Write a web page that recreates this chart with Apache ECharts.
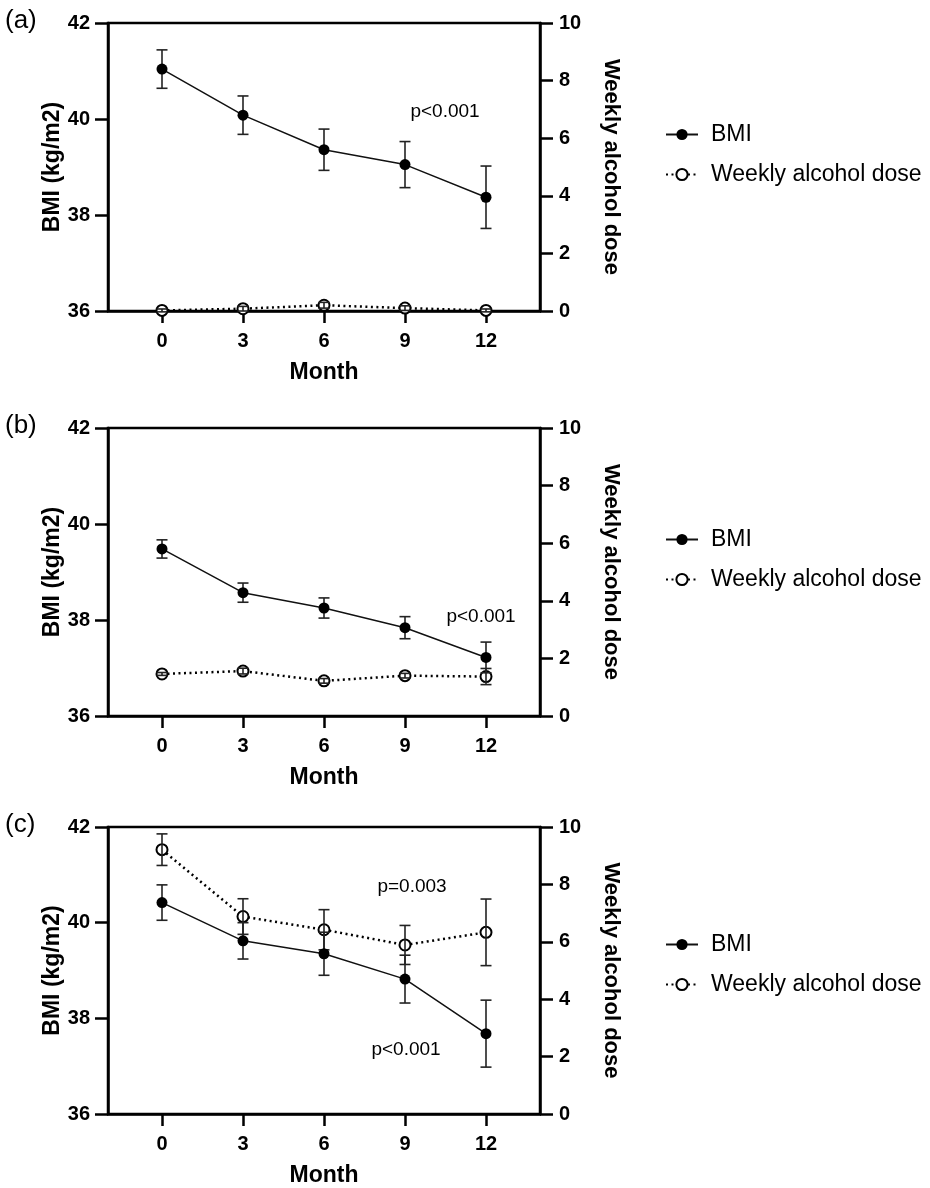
<!DOCTYPE html>
<html>
<head>
<meta charset="utf-8">
<script src="https://cdn.jsdelivr.net/npm/echarts@6/dist/echarts.min.js"></script>
<style>
html,body{margin:0;padding:0;background:#fff;}
#chart{width:930px;height:1188px;}
</style>
</head>
<body>
<div id="chart"></div>
<script>
// ---- data ----
const months = [0, 3, 6, 9, 12];
const xTicks = [0, 3, 6, 9, 12];
const bmiTicks = [36, 38, 40, 42];
const alcTicks = [0, 2, 4, 6, 8, 10];

const bmiA = [41.04, 40.08, 39.36, 39.05, 38.37];
const bmiAErr = [0.40, 0.40, 0.43, 0.48, 0.65];
const alcA = [0.02, 0.08, 0.20, 0.10, 0.02];
const alcAErr = [0.05, 0.08, 0.10, 0.08, 0.05];

const bmiB = [39.48, 38.57, 38.25, 37.84, 37.22];
const bmiBErr = [0.19, 0.20, 0.21, 0.23, 0.32];
const alcB = [1.46, 1.56, 1.22, 1.40, 1.37];
const alcBErr = [0.05, 0.10, 0.08, 0.08, 0.28];

const bmiC = [40.42, 39.62, 39.35, 38.82, 37.68];
const bmiCErr = [0.37, 0.38, 0.45, 0.50, 0.70];
const alcC = [9.21, 6.88, 6.42, 5.89, 6.33];
const alcCErr = [0.55, 0.62, 0.70, 0.68, 1.16];

const panelLabels = ['(a)', '(b)', '(c)'];
const seriesNames = ['BMI', 'Weekly alcohol dose'];
const xName = 'Month';
const yLeftName = 'BMI (kg/m2)';
const yRightName = 'Weekly alcohol dose';
const pTexts = [['p<0.001'], ['p<0.001'], ['p=0.003', 'p<0.001']];

// ---- layout / styles ----
const FONT = '"Liberation Sans", Arial, Helvetica, sans-serif';
const gridTops = [23, 428, 827];
const gridH = 288;
const gridLeft = 108;
const gridW = 432;
const legendTops = [123, 528, 933];
const pPos = [[[445, 112]], [[481, 617]], [[412, 887], [406, 1050]]];

const panels = [
  {bmi: bmiA, bmiErr: bmiAErr, alc: alcA, alcErr: alcAErr},
  {bmi: bmiB, bmiErr: bmiBErr, alc: alcB, alcErr: alcBErr},
  {bmi: bmiC, bmiErr: bmiCErr, alc: alcC, alcErr: alcCErr}
];

function errRender(params, api) {
  const x = api.value(0), y = api.value(1), e = api.value(2);
  const hi = api.coord([x, y + e]);
  const lo = api.coord([x, y - e]);
  const w = 5.5;
  const st = {stroke: '#222', lineWidth: 1.6};
  return {
    type: 'group',
    children: [
      {type: 'line', shape: {x1: hi[0], y1: hi[1], x2: lo[0], y2: lo[1]}, style: st},
      {type: 'line', shape: {x1: hi[0] - w, y1: hi[1], x2: hi[0] + w, y2: hi[1]}, style: st},
      {type: 'line', shape: {x1: lo[0] - w, y1: lo[1], x2: lo[0] + w, y2: lo[1]}, style: st}
    ]
  };
}

const grids = [], xAxes = [], yAxes = [], series = [], legends = [], graphics = [];
const axisLineStyle = {color: '#000', width: 2.5};
const labelStyle = {color: '#000', fontSize: 20, fontWeight: 'bold', fontFamily: FONT};
const nameStyle = {color: '#000', fontSize: 23, fontWeight: 'bold', fontFamily: FONT};
const rightNameStyle = {color: '#000', fontSize: 22, fontWeight: 'bold', fontFamily: FONT};

panels.forEach((p, i) => {
  grids.push({left: gridLeft, top: gridTops[i], width: gridW, height: gridH,
    show: true, borderColor: '#000', borderWidth: 2.5, backgroundColor: 'transparent'});
  xAxes.push({
    type: 'value', gridIndex: i, min: -2, max: 14,
    axisLine: {show: true, onZero: false, lineStyle: axisLineStyle},
    axisTick: {show: true, length: 12, lineStyle: axisLineStyle, customValues: xTicks},
    axisLabel: {show: true, margin: 20, customValues: xTicks, ...labelStyle},
    splitLine: {show: false},
    name: xName, nameLocation: 'middle', nameGap: 50, nameTextStyle: nameStyle
  });
  yAxes.push({
    type: 'value', gridIndex: i, position: 'left', min: 36, max: 42, interval: 2,
    axisLine: {show: true, onZero: false, lineStyle: axisLineStyle},
    axisTick: {show: true, length: 13, lineStyle: axisLineStyle},
    axisLabel: {show: true, margin: 18, ...labelStyle},
    splitLine: {show: false},
    name: yLeftName, nameLocation: 'middle', nameGap: 44, nameTextStyle: nameStyle
  });
  yAxes.push({
    type: 'value', gridIndex: i, position: 'right', min: 0, max: 10, interval: 2,
    axisLine: {show: true, onZero: false, lineStyle: axisLineStyle},
    axisTick: {show: true, length: 13, lineStyle: axisLineStyle},
    axisLabel: {show: true, margin: 19, ...labelStyle},
    splitLine: {show: false},
    name: yRightName, nameLocation: 'middle', nameGap: 60, nameRotate: -90, nameTextStyle: rightNameStyle
  });
  const yl = 2 * i, yr = 2 * i + 1;
  series.push({
    name: seriesNames[0], type: 'line', xAxisIndex: i, yAxisIndex: yl,
    data: months.map((m, k) => [m, p.bmi[k]]),
    symbol: 'circle', symbolSize: 11, clip: false, z: 4,
    itemStyle: {color: '#000'},
    lineStyle: {color: '#111', width: 1.5}
  });
  series.push({
    name: seriesNames[1], type: 'line', xAxisIndex: i, yAxisIndex: yr,
    data: months.map((m, k) => [m, p.alc[k]]),
    symbol: 'emptyCircle', symbolSize: 11, clip: false, z: 2,
    itemStyle: {color: '#000', borderWidth: 2.5},
    lineStyle: {color: '#000', width: 2.5, type: [2, 3.5]}
  });
  series.push({
    type: 'custom', xAxisIndex: i, yAxisIndex: yl, renderItem: errRender, z: 3,
    data: months.map((m, k) => [m, p.bmi[k], p.bmiErr[k]]), silent: true
  });
  series.push({
    type: 'custom', xAxisIndex: i, yAxisIndex: yr, renderItem: errRender, z: 3,
    data: months.map((m, k) => [m, p.alc[k], p.alcErr[k]]), silent: true
  });
  legends.push({
    data: seriesNames, orient: 'vertical', left: 665, top: legendTops[i], padding: 0,
    itemWidth: 32, itemHeight: 14, itemGap: 17, selectedMode: false,
    textStyle: {color: '#000', fontSize: 23, fontFamily: FONT, padding: [0, 0, 0, 8]}
  });
  graphics.push({type: 'text', left: 5, top: gridTops[i] - 15,
    style: {text: panelLabels[i], fontSize: 26, fontFamily: FONT, fill: '#000'}});
  pTexts[i].forEach((t, j) => {
    graphics.push({type: 'text', x: pPos[i][j][0], y: pPos[i][j][1],
      style: {text: t, fontSize: 19, fontFamily: FONT, fill: '#000', align: 'center', verticalAlign: 'middle'}});
  });
});

const chart = echarts.init(document.getElementById('chart'), null, {renderer: 'canvas'});
chart.setOption({
  animation: false,
  backgroundColor: '#fff',
  grid: grids, xAxis: xAxes, yAxis: yAxes, series: series,
  legend: legends, graphic: graphics
});
</script>
</body>
</html>
